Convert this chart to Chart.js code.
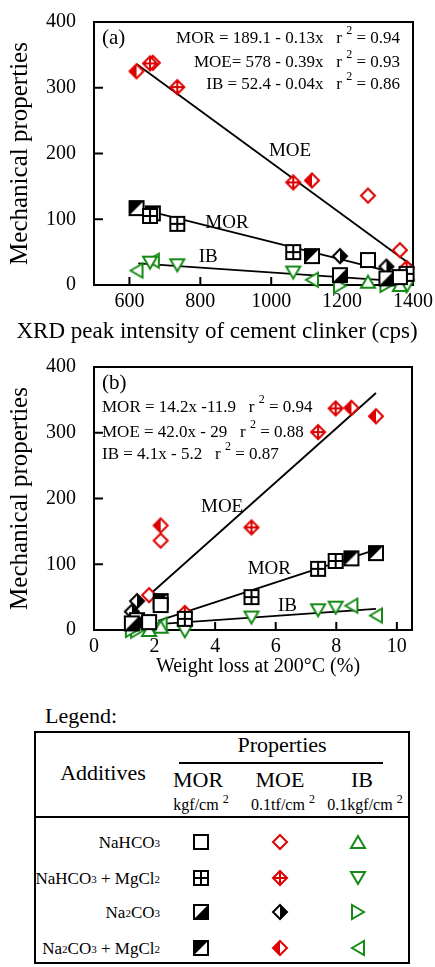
<!DOCTYPE html>
<html>
<head>
<meta charset="utf-8">
<script src="https://cdn.jsdelivr.net/npm/chart.js@4.4.1/dist/chart.umd.min.js"></script>
<style>
  html, body { margin: 0; padding: 0; background: #fff; }
  #page { position: relative; width: 435px; height: 967px; overflow: hidden; font-family: 'Liberation Serif', 'Times New Roman', serif; color: #000; }
  canvas.chart { position: absolute; left: 0; }
  .t { position: absolute; white-space: nowrap; line-height: 1; }
  .s { font-size: 11px; vertical-align: 1px; }
  .sup { font-size: 12px; vertical-align: 7px; }
  .rule { position: absolute; background: #000; }
</style>
</head>
<body>
<div id="page">
  <canvas id="chartA" class="chart" width="435" height="345" style="top:0"></canvas>
  <canvas id="chartB" class="chart" width="435" height="345" style="top:345px"></canvas>
  <div id="legend"></div>
</div>
<script>
// samples: additive 0 NaHCO3, 1 NaHCO3 + MgCl2, 2 Na2CO3, 3 Na2CO3 + MgCl2
const sampleAdditive = [3, 1, 3, 1, 1, 3, 2, 0, 2, 0, 1];
const xrdPeak = [620, 658, 666, 735, 1062, 1115, 1194, 1273, 1325, 1363, 1382];
const weightLoss = [9.31, 7.98, 8.5, 7.4, 5.2, 2.2, 1.42, 2.2, 1.25, 1.82, 3.0];
const morValues = [117, 105, 109, 93, 50, 44, 15, 38, 10, 12, 17];
const moeValues = [325, 337, 338, 301, 156, 159, 44, 136, 28, 53, 26];
const ibValues = [22, 34, 37, 30, 19, 8, -1, 5, 0, 0, -2];

// regression lines as drawn, ends (MOR, MOE, IB)
const fitXrdX = [[635, 1315], [620, 1396], [625, 1316]];
const fitXrdY = [[115, 23], [336, 30], [33, 7.5]];
const fitLossX = [[2.12, 9.36], [1.73, 9.31], [2.12, 9.31]];
const fitLossY = [[14, 123], [49.5, 360.5], [9, 32]];

// ticks
const xrdTicks = [600, 800, 1000, 1200, 1400];
const lossTicks = [0, 2, 4, 6, 8, 10];
const propTicks = [0, 100, 200, 300, 400];

// text
const propNames = ['MOR', 'MOE', 'IB'];
const additiveNames = ['NaHCO3', 'NaHCO3 + MgCl2', 'Na2CO3', 'Na2CO3 + MgCl2'];
const unitNames = ['kgf/cm', '0.1tf/cm', '0.1kgf/cm'];
const eqXrd = [['MOR = 189.1 - 0.13x   r ', '2', ' = 0.94'], ['MOE= 578 - 0.39x   r ', '2', ' = 0.93'], ['IB = 52.4 - 0.04x   r ', '2', ' = 0.86']];
const eqLoss = [['MOR = 14.2x -11.9   r ', '2', ' = 0.94'], ['MOE = 42.0x - 29   r ', '2', ' = 0.88'], ['IB = 4.1x - 5.2   r ', '2', ' = 0.87']];

const RED = '#dd0000', GREEN = '#168a16';
const FONT = "'Liberation Serif', 'Times New Roman', serif";

// one little canvas per marker type, used as pointStyle
function makeMarker(kind, size) {
  const c = document.createElement('canvas');
  c.width = c.height = size + 4;
  const g = c.getContext('2d');
  const m = c.width / 2, h = size / 2;
  g.lineWidth = 2;
  g.lineJoin = 'miter';
  g.fillStyle = '#fff';
  const shape = kind.slice(0, 2);
  if (shape === 'sq') {
    const a = m - h + 1, b = m + h - 1;
    g.strokeStyle = '#000';
    g.fillRect(a, a, b - a, b - a);
    g.fillStyle = '#000';
    g.beginPath();
    if (kind === 'sqLR') { g.moveTo(a, b); g.lineTo(b, a); g.lineTo(b, b); }
    if (kind === 'sqUL') { g.moveTo(a, a); g.lineTo(b, a); g.lineTo(a, b); }
    g.fill();
    g.strokeRect(a, a, b - a, b - a);
    if (kind === 'sqPlus') {
      g.beginPath();
      g.moveTo(m, a); g.lineTo(m, b); g.moveTo(a, m); g.lineTo(b, m);
      g.stroke();
    }
  } else if (shape === 'di') {
    const r = h - 1;
    const col = kind === 'diHalfR' ? '#000' : RED;
    g.strokeStyle = col;
    g.beginPath();
    g.moveTo(m, m - r); g.lineTo(m + r, m); g.lineTo(m, m + r); g.lineTo(m - r, m); g.closePath();
    g.fill();
    g.fillStyle = col;
    if (kind === 'diHalfR') { g.beginPath(); g.moveTo(m, m - r); g.lineTo(m + r, m); g.lineTo(m, m + r); g.fill(); }
    if (kind === 'diHalfL') { g.beginPath(); g.moveTo(m, m - r); g.lineTo(m - r, m); g.lineTo(m, m + r); g.fill(); }
    g.beginPath();
    g.moveTo(m, m - r); g.lineTo(m + r, m); g.lineTo(m, m + r); g.lineTo(m - r, m); g.closePath();
    g.stroke();
    if (kind === 'diPlus') {
      g.beginPath();
      g.moveTo(m, m - r); g.lineTo(m, m + r); g.moveTo(m - r, m); g.lineTo(m + r, m);
      g.stroke();
    }
  } else {
    const w = h - 1, t = h - 2;
    g.strokeStyle = GREEN;
    g.beginPath();
    if (kind === 'tu') { g.moveTo(m, m - t); g.lineTo(m + w, m + t); g.lineTo(m - w, m + t); }
    if (kind === 'td') { g.moveTo(m, m + t); g.lineTo(m + w, m - t); g.lineTo(m - w, m - t); }
    if (kind === 'tr') { g.moveTo(m + t, m); g.lineTo(m - t, m - w); g.lineTo(m - t, m + w); }
    if (kind === 'tl') { g.moveTo(m - t, m); g.lineTo(m + t, m - w); g.lineTo(m + t, m + w); }
    g.closePath();
    g.fill();
    g.stroke();
  }
  return c;
}

const markerKinds = [
  ['sq', 'sqPlus', 'sqLR', 'sqUL'],
  ['di', 'diPlus', 'diHalfR', 'diHalfL'],
  ['tu', 'td', 'tr', 'tl']
];

function pointSets(xValues) {
  const props = [morValues, moeValues, ibValues];
  const sets = [];
  props.forEach((vals, p) => {
    for (let a = 0; a < 4; a++) {
      const pts = [];
      sampleAdditive.forEach((t, i) => { if (t === a) pts.push({ x: xValues[i], y: vals[i] }); });
      sets.push({
        label: propNames[p] + ' ' + additiveNames[a],
        data: pts,
        pointStyle: makeMarker(markerKinds[p][a], 16),
        pointRadius: 8,
        showLine: false,
        order: p + 1,
        clip: false
      });
    }
  });
  return sets;
}

function fitSets(fx, fy) {
  return fx.map((xs, i) => ({
    label: propNames[i] + ' fit',
    data: xs.map((x, j) => ({ x: x, y: fy[i][j] })),
    showLine: true,
    borderColor: '#000',
    borderWidth: 1.8,
    pointRadius: 0,
    order: 10,
    clip: false
  }));
}

function axis(min, max, tickValues, isY) {
  return {
    type: 'linear',
    min: min,
    max: max,
    afterBuildTicks: s => { s.ticks = tickValues.map(v => ({ value: v })); },
    afterFit: s => { if (isY) s.width = 94; else s.height = 60; },
    grid: { display: false },
    border: { display: false },
    ticks: {
      color: '#000',
      font: { family: FONT, size: 20 },
      padding: isY ? 10 : -3,
      maxRotation: 0,
      autoSkip: false,
      callback: v => String(v)
    }
  };
}

// frame and inward tick marks
const framePlugin = {
  id: 'frame',
  beforeDatasetsDraw(chart) {
    const { ctx, chartArea: a, scales } = chart;
    ctx.save();
    ctx.strokeStyle = '#000';
    ctx.lineWidth = 2;
    ctx.strokeRect(a.left, a.top, a.right - a.left, a.bottom - a.top);
    ctx.beginPath();
    scales.x.ticks.forEach(t => {
      const px = scales.x.getPixelForValue(t.value);
      ctx.moveTo(px, a.bottom); ctx.lineTo(px, a.bottom - 8);
    });
    scales.y.ticks.forEach(t => {
      const py = scales.y.getPixelForValue(t.value);
      ctx.moveTo(a.left, py); ctx.lineTo(a.left + 9, py);
    });
    ctx.stroke();
    ctx.restore();
  }
};

function drawRich(ctx, parts, x, y, align, size) {
  const fonts = [size + 'px ' + FONT, Math.round(size * 0.72) + 'px ' + FONT, size + 'px ' + FONT];
  let w = 0;
  parts.forEach((p, i) => { ctx.font = fonts[i]; w += ctx.measureText(p).width; });
  let cx = align === 'right' ? x - w : x;
  ctx.textAlign = 'left';
  parts.forEach((p, i) => {
    ctx.font = fonts[i];
    ctx.fillText(p, cx, i === 1 ? y - 8 : y);
    cx += ctx.measureText(p).width;
  });
}

function textPlugin(cfg) {
  return {
    id: 'panelText',
    afterDraw(chart) {
      const { ctx, chartArea: a, scales } = chart;
      ctx.save();
      ctx.fillStyle = '#000';
      ctx.textBaseline = 'middle';
      ctx.textAlign = 'left';
      ctx.font = '21px ' + FONT;
      ctx.fillText(cfg.tag, 102, 38);
      cfg.eqs.forEach((eq, i) => drawRich(ctx, eq, cfg.eqX, cfg.eqY[i], cfg.eqAlign, 17));
      ctx.textAlign = 'center';
      ctx.font = '19px ' + FONT;
      cfg.curveLabels.forEach(l => {
        ctx.fillText(l[0], scales.x.getPixelForValue(l[1]), scales.y.getPixelForValue(l[2]));
      });
      ctx.font = cfg.xTitleSize + 'px ' + FONT;
      ctx.fillText(cfg.xTitle, cfg.xTitleX, cfg.xTitleY);
      ctx.translate(20, (a.top + a.bottom) / 2);
      ctx.rotate(-Math.PI / 2);
      ctx.font = '25px ' + FONT;
      ctx.fillText('Mechanical properties', 0, 0);
      ctx.restore();
    }
  };
}

function makeChart(id, xValues, xMin, xMax, xTicks, fx, fy, padding, text) {
  return new Chart(document.getElementById(id), {
    type: 'scatter',
    data: { datasets: pointSets(xValues).concat(fitSets(fx, fy)) },
    options: {
      responsive: false,
      animation: false,
      events: [],
      layout: { padding: padding },
      plugins: { legend: { display: false }, tooltip: { enabled: false } },
      scales: {
        x: axis(xMin, xMax, xTicks, false),
        y: axis(0, 400, propTicks, true)
      }
    },
    plugins: [framePlugin, textPlugin(text)]
  });
}

makeChart('chartA', xrdPeak, 500, 1400, xrdTicks, fitXrdX, fitXrdY,
  { top: 20, right: 22, left: 0, bottom: 0 },
  {
    tag: '(a)', eqs: eqXrd, eqX: 400, eqY: [39, 63, 85], eqAlign: 'right',
    curveLabels: [['MOE', 1053, 204], ['MOR', 875, 95], ['IB', 822, 42]],
    xTitle: 'XRD peak intensity of cement clinker (cps)', xTitleX: 217, xTitleY: 332, xTitleSize: 23
  });

makeChart('chartB', weightLoss, 0, 10.5, lossTicks, fitLossX, fitLossY,
  { top: 21, right: 23, left: 0, bottom: 0 },
  {
    tag: '(b)', eqs: eqLoss, eqX: 102, eqY: [63, 88, 110], eqAlign: 'left',
    curveLabels: [['MOE', 4.23, 187], ['MOR', 5.79, 93], ['IB', 6.39, 37]],
    xTitle: 'Weight loss at 200°C (%)', xTitleX: 258, xTitleY: 322, xTitleSize: 20
  });

// legend table
const legendEl = document.getElementById('legend');
function put(html, x, y, size, anchor) {
  const d = document.createElement('div');
  d.className = 't';
  d.innerHTML = html;
  d.style.left = x + 'px';
  d.style.top = y + 'px';
  d.style.fontSize = size + 'px';
  const tx = anchor === 'r' ? '-100%' : anchor === 'l' ? '0' : '-50%';
  d.style.transform = 'translate(' + tx + ',-50%)';
  legendEl.appendChild(d);
}
function rule(x, y, w, h) {
  const d = document.createElement('div');
  d.className = 'rule';
  d.style.left = x + 'px'; d.style.top = y + 'px';
  d.style.width = w + 'px'; d.style.height = h + 'px';
  legendEl.appendChild(d);
}

put('Legend:', 45, 716, 22, 'l');
const box = document.createElement('div');
box.style.cssText = 'position:absolute;left:34px;top:731px;width:376px;height:233px;border:2px solid #000;box-sizing:border-box';
legendEl.appendChild(box);
put('Properties', 282, 745, 22, 'c');
rule(179, 762, 204, 2);
put('Additives', 103, 773, 22, 'c');
rule(34, 816, 376, 2);

const colX = [198, 280, 362];
propNames.forEach((p, i) => {
  put(p, colX[i], 780, 22, 'c');
  put(unitNames[i] + ' <span class="sup">2</span>', colX[i] + 3, 803, 16, 'c');
});

const rowY = [842, 878, 912, 948];
const symX = [201, 280, 358];
additiveNames.forEach((name, r) => {
  put(name.replace(/(\d)/g, '<span class="s">$1</span>'), 160, rowY[r], 17, 'r');
  for (let p = 0; p < 3; p++) {
    const c = makeMarker(markerKinds[p][r], 16);
    c.style.position = 'absolute';
    c.style.left = (symX[p] - c.width / 2) + 'px';
    c.style.top = (rowY[r] - c.height / 2) + 'px';
    legendEl.appendChild(c);
  }
});
</script>
</body>
</html>
